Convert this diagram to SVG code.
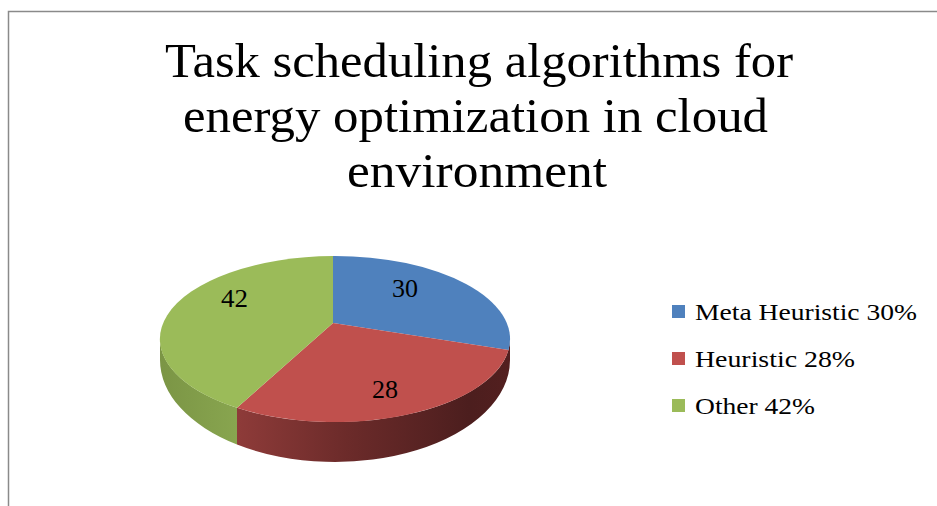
<svg xmlns="http://www.w3.org/2000/svg" width="937" height="506" viewBox="0 0 937 506">
<style>
.t{font-family:"Liberation Serif","Times New Roman",serif;fill:#000}
.title{font-size:48px}
.lbl{font-size:26px}
.leg{font-size:24px}
</style>
<defs>
<linearGradient id="redSide" gradientUnits="userSpaceOnUse" x1="237" y1="0" x2="510" y2="0">
<stop offset="0" stop-color="#8e3b39"/>
<stop offset="0.4" stop-color="#6c2b2a"/>
<stop offset="0.85" stop-color="#4c1e1e"/>
<stop offset="1" stop-color="#531f1f"/>
</linearGradient>
<linearGradient id="greenSide" gradientUnits="userSpaceOnUse" x1="160" y1="0" x2="237" y2="0">
<stop offset="0" stop-color="#7b9545"/>
<stop offset="1" stop-color="#88a54f"/>
</linearGradient>
</defs>
<rect width="937" height="506" fill="#fff"/>
<rect id="frame" x="8.5" y="11.5" width="1000" height="600" fill="none" stroke="#8a8a8a" stroke-width="1.5"/>
<g id="title">
<text class="t title" x="165" y="77" textLength="628" lengthAdjust="spacingAndGlyphs">Task scheduling algorithms for</text>
<text class="t title" x="183" y="132" textLength="585" lengthAdjust="spacingAndGlyphs">energy optimization in cloud</text>
<text class="t title" x="347" y="187" textLength="260" lengthAdjust="spacingAndGlyphs">environment</text>
</g>
<g id="pie">
<g id="sides">
<path d="M160,339 A175,83 0 0 0 237,407.8 L237,444.5 A175,102 0 0 1 160,360 Z" fill="url(#greenSide)"/>
<path d="M237,407.8 A175,83 0 0 0 510,339 L510,360 A175,102 0 0 1 237,444.5 Z" fill="url(#redSide)"/>
</g>
<g id="slice-meta">
<path d="M333,323 L333,256 A175,83 0 0 1 508.5,350 Z" fill="#4f81bd"/>
<text class="t lbl" x="392" y="297" textLength="26" lengthAdjust="spacingAndGlyphs">30</text>
</g>
<g id="slice-heuristic">
<path d="M333,323 L508.5,350 A175,83 0 0 1 237,407.8 Z" fill="#c0504d"/>
<text class="t lbl" x="372" y="398" textLength="26" lengthAdjust="spacingAndGlyphs">28</text>
</g>
<g id="slice-other">
<path d="M333,323 L237,407.8 A175,83 0 0 1 333,256 Z" fill="#9bbb59"/>
<text class="t lbl" x="221" y="307" textLength="27" lengthAdjust="spacingAndGlyphs">42</text>
</g>
</g>
<g id="legend">
<g id="legend-meta">
<rect x="672" y="305" width="13" height="13" fill="#4f81bd"/>
<text class="t leg" x="695" y="320" textLength="222" lengthAdjust="spacingAndGlyphs">Meta Heuristic 30%</text>
</g>
<g id="legend-heuristic">
<rect x="672" y="352" width="13" height="13" fill="#c0504d"/>
<text class="t leg" x="695" y="367" textLength="160" lengthAdjust="spacingAndGlyphs">Heuristic 28%</text>
</g>
<g id="legend-other">
<rect x="672" y="399" width="13" height="13" fill="#9bbb59"/>
<text class="t leg" x="695" y="414" textLength="120" lengthAdjust="spacingAndGlyphs">Other 42%</text>
</g>
</g>
</svg>
